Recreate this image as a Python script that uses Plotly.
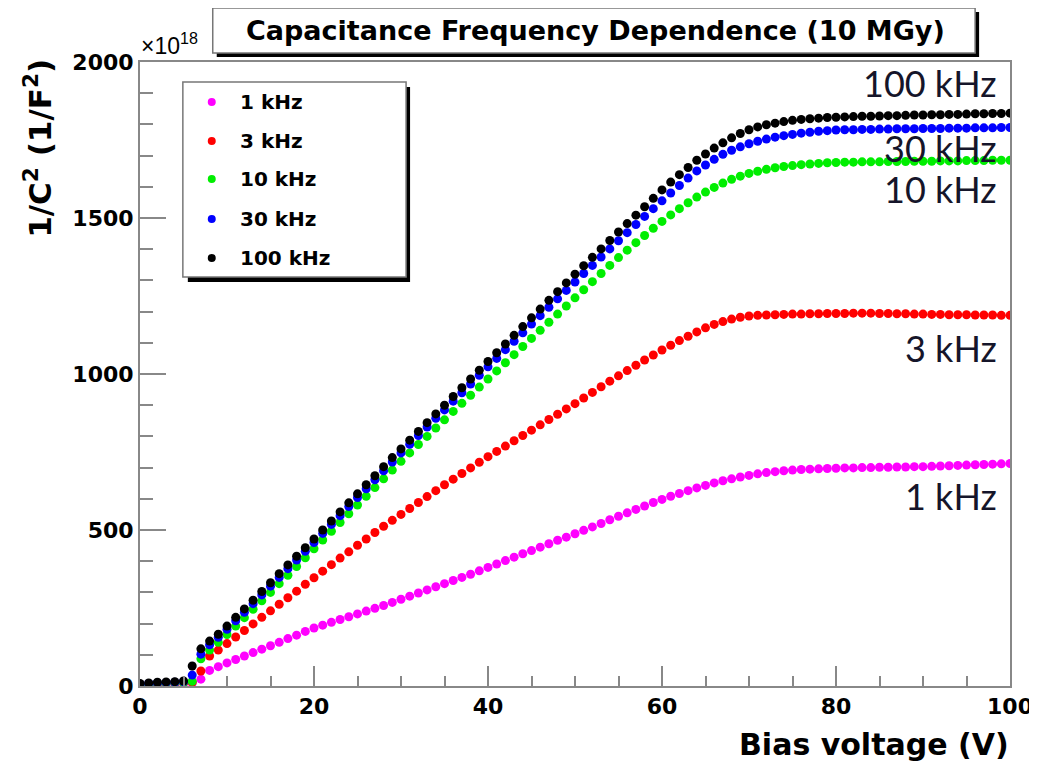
import plotly.graph_objects as go

# ---------------- data ----------------
bias_v = list(range(0, 101))

f1k = [3, 4, 5, 6, 7, 8, 10, 22, 50, 62, 74, 85, 96, 107, 118, 129, 140, 152, 163, 175, 186,
       195, 204, 213, 222, 231, 240, 249, 258, 268, 278,
       288, 298, 308, 318, 328, 338, 348, 358, 369, 380,
       391, 402, 413, 424, 434, 445, 456, 467, 477, 488,
       499, 510, 521, 533, 544, 555, 566, 577, 588, 598,
       608, 617, 626, 635, 643, 651, 658, 664, 670, 675,
       680, 684, 687, 690, 692, 694, 695, 696, 697, 698,
       699, 699, 700, 700, 701, 701, 702, 702, 703, 703,
       704, 705, 706, 707, 708, 709, 710, 711, 712, 713]

f3k = [5, 6, 7, 8, 9, 10, 12, 48, 96, 115, 136, 157, 178, 199, 220, 241, 262, 283, 304, 326, 347,
       368, 389, 410, 430, 451, 471, 492, 512, 531, 550,
       569, 588, 607, 626, 645, 663, 681, 699, 717, 735,
       752, 769, 786, 803, 820, 837, 854, 871, 888, 905,
       923, 941, 959, 977, 994, 1011, 1028, 1045, 1061, 1077,
       1092, 1107, 1121, 1135, 1148, 1159, 1168, 1176, 1182, 1186,
       1188, 1189, 1190, 1191, 1192, 1192, 1193, 1193, 1194, 1194,
       1194, 1195, 1195, 1195, 1194, 1194, 1193, 1193, 1192, 1192,
       1191, 1191, 1190, 1190, 1190, 1189, 1189, 1189, 1188, 1188]

f10k = [5, 6, 8, 9, 10, 11, 15, 87, 115, 140, 165, 192, 219, 246, 273, 300, 328, 355, 383, 411, 440,
        468, 496, 524, 552, 580, 608, 636, 664, 692, 720,
        747, 774, 800, 827, 853, 880, 906, 932, 958, 984,
        1010, 1036, 1062, 1088, 1114, 1140, 1166, 1192, 1218, 1244,
        1270, 1296, 1322, 1348, 1373, 1397, 1421, 1444, 1467, 1489,
        1510, 1530, 1549, 1567, 1583, 1598, 1612, 1624, 1634, 1643,
        1650, 1656, 1661, 1665, 1668, 1671, 1673, 1675, 1677, 1678,
        1679, 1679, 1680, 1680, 1680, 1681, 1681, 1681, 1682, 1682,
        1682, 1683, 1683, 1683, 1684, 1684, 1684, 1685, 1685, 1685]

f30k = [6, 8, 10, 11, 12, 14, 35, 102, 132, 156, 182, 209, 236, 264, 292, 320, 348, 376, 404, 432, 460,
        489, 518, 546, 575, 604, 632, 661, 690, 718, 747,
        775, 803, 830, 858, 885, 913, 940, 968, 996, 1023,
        1050, 1078, 1105, 1132, 1160, 1187, 1214, 1241, 1268, 1295,
        1322, 1348, 1375, 1401, 1427, 1453, 1479, 1505, 1530, 1555,
        1580, 1604, 1628, 1651, 1670, 1688, 1704, 1717, 1728, 1738,
        1746, 1753, 1759, 1764, 1768, 1772, 1775, 1778, 1780, 1782,
        1783, 1783, 1784, 1784, 1785, 1785, 1786, 1786, 1786, 1787,
        1787, 1787, 1788, 1788, 1788, 1789, 1789, 1789, 1790, 1790]

f100k = [8, 10, 12, 13, 14, 16, 64, 119, 144, 166, 192, 220, 247, 275, 303, 331, 360, 388, 416, 443, 471,
         500, 529, 558, 587, 616, 645, 674, 703, 732, 760,
         788, 816, 844, 872, 900, 928, 956, 984, 1012, 1040,
         1068, 1096, 1124, 1152, 1180, 1208, 1236, 1264, 1292, 1320,
         1347, 1374, 1401, 1428, 1455, 1482, 1509, 1536, 1563, 1590,
         1615, 1639, 1662, 1685, 1705, 1724, 1741, 1757, 1771, 1783,
         1792, 1799, 1804, 1809, 1813, 1816, 1818, 1820, 1822, 1823,
         1824, 1825, 1826, 1826, 1827, 1828, 1828, 1829, 1830, 1830,
         1831, 1831, 1832, 1832, 1833, 1834, 1834, 1835, 1835, 1836]

series_names = ["1 kHz", "3 kHz", "10 kHz", "30 kHz", "100 kHz"]
series_values = [f1k, f3k, f10k, f30k, f100k]
series_colors = ["#ff00ff", "#ff0000", "#00ee00", "#0000ff", "#000000"]

x_ticks = [0, 20, 40, 60, 80, 100]
y_ticks = [0, 500, 1000, 1500, 2000]

# ---------------- layout helpers ----------------
# page body has an 8 px margin, so the figure is offset by 8 px
OFF = 8
W, H = 1037, 764
PL, PT, PR, PB = 140, 62, 1013, 686          # plot area in screen pixels
L, T = PL - OFF, PT - OFF
PW, PH = PR - PL, PB - PT
R = W - L - PW
B = H - T - PH


def px(xp):
    return (xp - PL) / PW


def py(yp):
    return (PB - yp) / PH


BOLD = "DejaVu Sans, Liberation Sans, sans-serif"
REG = "Liberation Sans, Arial, sans-serif"

fig = go.Figure()
for name, vals, col in zip(series_names, series_values, series_colors):
    fig.add_trace(go.Scatter(
        x=bias_v, y=vals, mode="markers", name=name,
        marker=dict(color=col, size=9, symbol="circle", line=dict(width=0)),
        showlegend=False,
    ))

shapes = []
annotations = []

# title box with shadow
shapes.append(dict(type="rect", xref="paper", yref="paper",
                   x0=px(217), x1=px(982), y0=py(57), y1=py(12),
                   fillcolor="black", line=dict(width=0), layer="above"))
shapes.append(dict(type="rect", xref="paper", yref="paper",
                   x0=px(213), x1=px(978), y0=py(53), y1=py(8),
                   fillcolor="white", line=dict(color="#777777", width=1.5), layer="above"))
annotations.append(dict(xref="paper", yref="paper", x=px(597), y=py(31),
                        text="<b>Capacitance Frequency Dependence (10 MGy)</b>",
                        showarrow=False, xanchor="center", yanchor="middle",
                        font=dict(family=BOLD, size=27, color="black")))

# legend box with shadow
shapes.append(dict(type="rect", xref="paper", yref="paper",
                   x0=px(188), x1=px(411), y0=py(282), y1=py(87),
                   fillcolor="black", line=dict(width=0), layer="above"))
shapes.append(dict(type="rect", xref="paper", yref="paper",
                   x0=px(183), x1=px(407), y0=py(277), y1=py(82),
                   fillcolor="white", line=dict(color="#777777", width=1.5), layer="above"))
row_y = [102, 141, 179, 219, 258]
for name, col, ry in zip(series_names, series_colors, row_y):
    shapes.append(dict(type="circle", xref="paper", yref="paper",
                       x0=px(208), x1=px(216), y0=py(ry + 4), y1=py(ry - 4),
                       fillcolor=col, line=dict(width=0), layer="above"))
    annotations.append(dict(xref="paper", yref="paper", x=px(238), y=py(ry),
                            text="<b>" + name + "</b>", showarrow=False,
                            xanchor="left", yanchor="middle",
                            font=dict(family=BOLD, size=20, color="black")))

# right side labels
right_labels = [("100 kHz", 83), ("30 kHz", 148), ("10 kHz", 189), ("3 kHz", 348), ("1 kHz", 496)]
for txt, yc in right_labels:
    annotations.append(dict(xref="paper", yref="paper", x=px(1002), y=py(yc),
                            text=txt, showarrow=False, xanchor="right", yanchor="middle",
                            font=dict(family="Lato, Open Sans, sans-serif", size=36, color="#15152a")))

# exponent label
annotations.append(dict(xref="paper", yref="paper", x=px(139), y=py(61),
                        text="×10<sup>18</sup>", showarrow=False, xanchor="left", yanchor="bottom",
                        font=dict(family=REG, size=23, color="black")))

# axis titles
annotations.append(dict(xref="paper", yref="paper", x=px(37), y=py(57),
                        text="<b>1/C<sup>2</sup> (1/F<sup>2</sup>)</b>", showarrow=False,
                        textangle=-90, xanchor="center", yanchor="top",
                        font=dict(family=BOLD, size=31, color="black")))
annotations.append(dict(xref="paper", yref="paper", x=px(1014), y=py(745),
                        text="<b>Bias voltage (V)</b>", showarrow=False,
                        xanchor="right", yanchor="middle",
                        font=dict(family=BOLD, size=30, color="black")))

axis_col = "#888888"
fig.update_layout(
    width=W, height=H, autosize=False,
    margin=dict(l=L, r=R, t=T, b=B, pad=0),
    paper_bgcolor="white", plot_bgcolor="white",
    showlegend=False,
    shapes=shapes, annotations=annotations,
    xaxis=dict(range=[0, 100], tickvals=x_ticks, ticktext=["<b>%d</b>" % v for v in x_ticks],
               ticks="inside", ticklen=20, tickwidth=2, tickcolor=axis_col,
               showline=True, linecolor=axis_col, linewidth=2, mirror=True,
               showgrid=False, zeroline=False,
               tickfont=dict(family=BOLD, size=22, color="black")),
    yaxis=dict(range=[0, 2000], tickvals=y_ticks, ticktext=["<b>%d</b>" % v for v in y_ticks],
               ticks="inside", ticklen=26, tickwidth=2, tickcolor=axis_col,
               showline=True, linecolor=axis_col, linewidth=2, mirror=True,
               showgrid=False, zeroline=False,
               tickfont=dict(family=BOLD, size=22, color="black")),
)
fig.update_xaxes(minor=dict(dtick=5, ticks="inside", ticklen=10, tickwidth=2,
                            tickcolor=axis_col, showgrid=False))
fig.update_yaxes(minor=dict(dtick=100, ticks="inside", ticklen=13, tickwidth=2,
                            tickcolor=axis_col, showgrid=False))

fig.write_html("out.html")
